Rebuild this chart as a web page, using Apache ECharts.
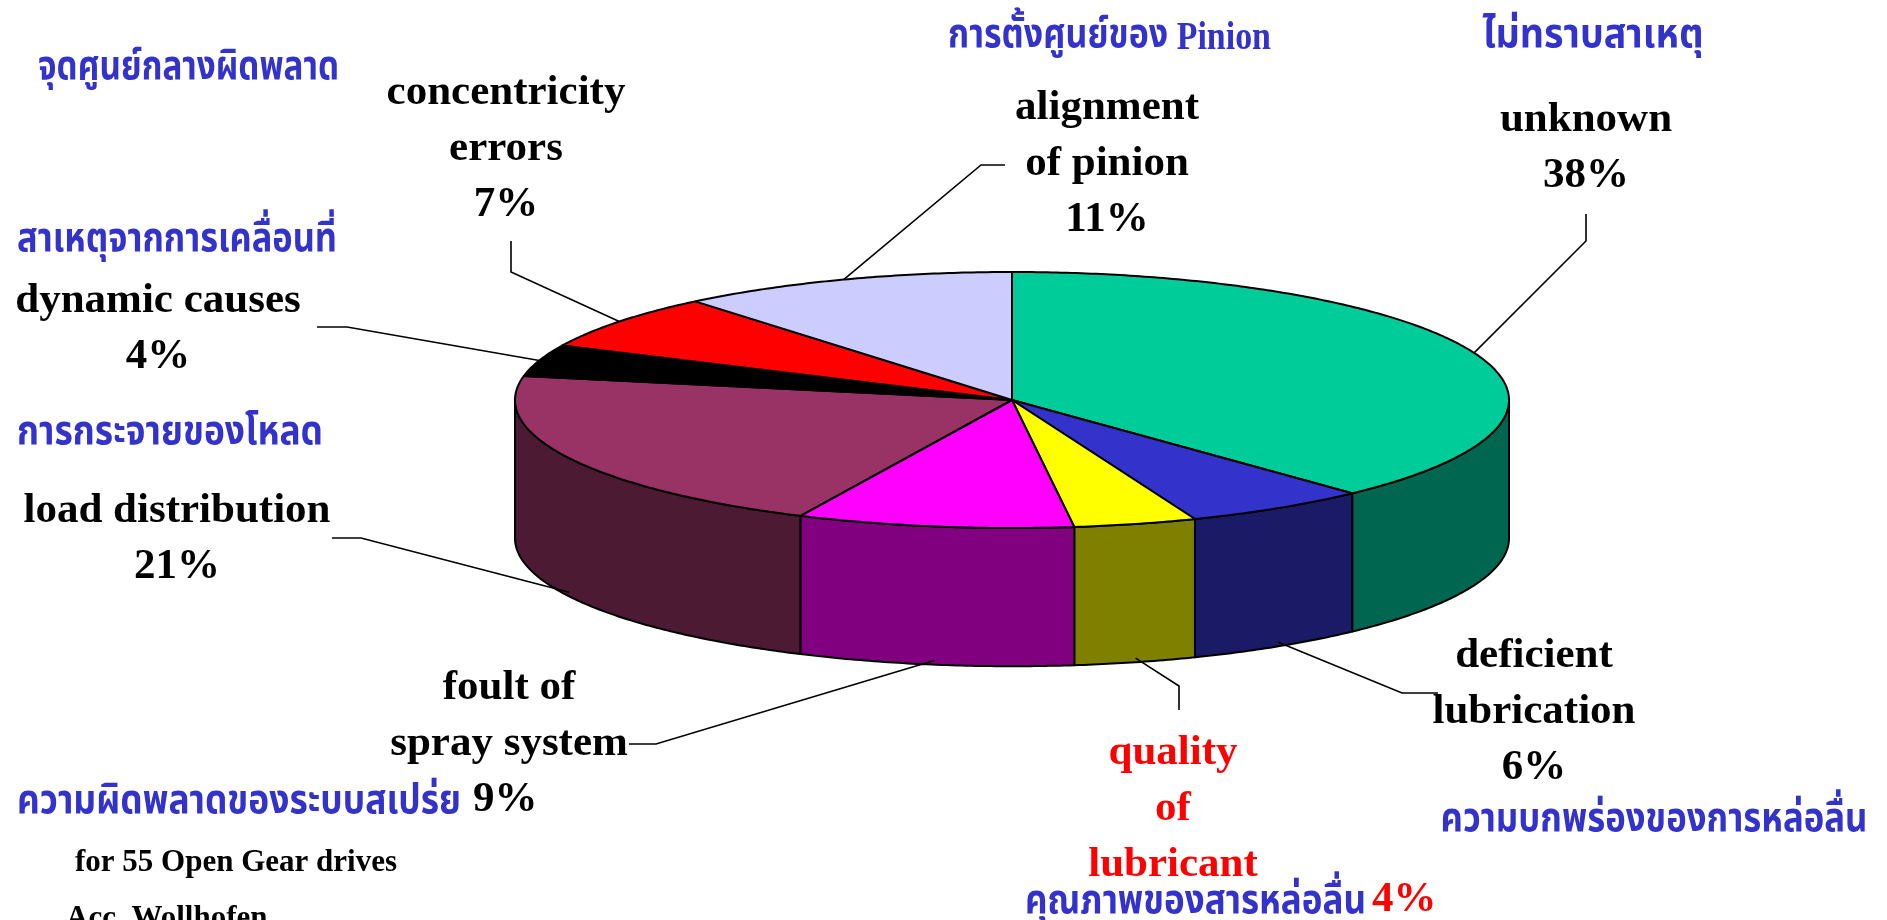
<!DOCTYPE html>
<html>
<head>
<meta charset="utf-8">
<script src="https://cdn.jsdelivr.net/npm/echarts@6/dist/echarts.min.js"></script>
<style>
html,body{margin:0;padding:0;background:#fff;}
#chart{width:1887px;height:920px;}
</style>
</head>
<body>
<div id="chart"></div>
<script>
// ---- data ----
const categories = ['unknown','deficient lubrication','quality of lubricant','foult of spray system','load distribution','dynamic causes','concentricity errors','alignment of pinion'];
const values = [38, 6, 4, 9, 21, 4, 7, 11];
const labelLines = [['unknown'], ['deficient','lubrication'], ['quality','of','lubricant'], ['foult of','spray system'], ['load distribution'], ['dynamic causes'], ['concentricity','errors'], ['alignment','of pinion']];
const thaiNames = ['ไม่ทราบสาเหตุ','ความบกพร่องของการหล่อลื่น','คุณภาพของสารหล่อลื่น','ความผิดพลาดของระบบสเปร่ย','การกระจายของโหลด','สาเหตุจากการเคลื่อนที่','จุดศูนย์กลางผิดพลาด','การตั้งศูนย์ของ Pinion'];
const percentOnThaiLine = [false, false, true, true, false, false, false, false];
const noteLines = ['for 55 Open Gear drives', 'Acc. Wollhofen'];

// ---- styles / layout ----
const topColors = ['#00CC99','#3333CC','#FFFF00','#FF00FF','#993366','#000000','#FF0000','#CCCCFF'];
const sideColors = ['#006650','#1A1A66','#808000','#800080','#4C1A33','#000000','#800000','#666680'];
const labelColors = ['#000','#000','#FF0000','#000','#000','#000','#000','#000'];
const labelPos = [[1586,120],[1534,656],[1173,753],[509,688],[177,511],[158,301],[506,93],[1107,108]];
const thaiPos = [[1593,39,'center'],[1654,823,'center'],[1025,905,'left'],[17,805,'left'],[17,436,'left'],[17,243,'left'],[38,71,'left'],[948,39,'left']];
const thaiWidth = [221, 427, 341, 444, 306, 320, 301, 323];
const thaiPctPos = {2: [1372, 900], 3: [473, 800]};
const leaderPts = [[[1586,241],[1586,214]],[[1402,693],[1438,693]],[[1179,686],[1179,710]],[[656,744],[629,744]],[[361,538],[332,538]],[[347,327],[317,327]],[[511,272],[511,241]],[[981,165],[1005,165]]];
const DEPTH = 1.08;
const LH = 56;
const EN_FONT = 'bold 43px "Liberation Serif", "Times New Roman", serif';
const TH_FAMILY = '"Noto Sans Thai","Noto Serif Thai","Garuda","Loma","Norasi","Tlwg Typo","DejaVu Sans","Liberation Serif",sans-serif';
const TH_SIZE = 33, LAT_SIZE = 33;
const BLUE = '#3333CC';

const total = values.reduce((a, b) => a + b, 0);
const starts = [];
values.reduce((acc, v) => { starts.push(acc); return acc + v; }, 0);

function renderItem(params, api) {
  const i = params.dataIndex;
  const v = api.value(2);
  const a0 = starts[i] / total * 2 * Math.PI;
  const a1 = (starts[i] + v) / total * 2 * Math.PI;
  const pt = (t, dz) => api.coord([Math.sin(t), Math.cos(t) - (dz || 0)]);
  const arc = (t0, t1, dz) => {
    const n = Math.max(2, Math.ceil((t1 - t0) / 0.01));
    const arr = [];
    for (let k = 0; k <= n; k++) arr.push(pt(t0 + (t1 - t0) * k / n, dz));
    return arr;
  };
  const children = [];
  const s0 = Math.max(a0, Math.PI / 2), s1 = Math.min(a1, 1.5 * Math.PI);
  if (s1 > s0) {
    const pts = arc(s0, s1, 0).concat(arc(s0, s1, DEPTH).reverse());
    children.push({type: 'polygon', shape: {points: pts}, style: {fill: sideColors[i], stroke: '#000', lineWidth: 2, lineJoin: 'round'}});
  }
  const top = [api.coord([0, 0])].concat(arc(a0, a1, 0));
  children.push({type: 'polygon', shape: {points: top}, style: {fill: topColors[i], stroke: '#000', lineWidth: 2, lineJoin: 'round'}});
  const mid = (a0 + a1) / 2;
  const start = Math.cos(mid) < 0 ? pt(mid, DEPTH * 0.97) : pt(mid, 0);
  children.push({type: 'polyline', shape: {points: [start].concat(leaderPts[i])}, style: {stroke: '#000', lineWidth: 1.6, fill: null}});
  return {type: 'group', children: children};
}

const mctx = document.createElement('canvas').getContext('2d');
function measure(font, text) { mctx.font = font; return mctx.measureText(text).width; }
const TH_FONT_STR = 'bold ' + TH_SIZE + 'px ' + TH_FAMILY;
const LAT_FONT_STR = 'bold ' + LAT_SIZE + 'px "Liberation Serif", serif';

// labels
const graphics = [];
labelLines.forEach((lines, i) => {
  const ls = lines.slice();
  if (!percentOnThaiLine[i]) ls.push(values[i] + '%');
  ls.forEach((t, k) => {
    graphics.push({type: 'text', z: 10, style: {text: t, x: labelPos[i][0], y: labelPos[i][1] + k * LH, font: EN_FONT, fill: labelColors[i], align: 'center', verticalAlign: 'middle'}});
  });
  const tp = thaiPos[i];
  const name = thaiNames[i];
  const m = name.match(/^(.*?)\s+([A-Za-z]+)$/);
  let txt, w;
  if (m) {
    txt = '{t|' + m[1] + '}{s| }{l|' + m[2] + '}';
    w = measure(TH_FONT_STR, m[1]) + measure(LAT_FONT_STR, ' ') + measure(LAT_FONT_STR, m[2]);
  } else {
    txt = '{t|' + name + '}';
    w = measure(TH_FONT_STR, name);
  }
  const sx = w > 0 ? thaiWidth[i] / w : 1;
  graphics.push({type: 'text', z: 10, x: tp[0], y: tp[1], scaleX: sx, scaleY: 1.22, style: {
    text: txt, x: 0, y: 0, align: tp[2], verticalAlign: 'middle',
    rich: {
      t: {fontFamily: TH_FAMILY, fontSize: TH_SIZE, fill: BLUE, fontWeight: 'bold'},
      s: {fontFamily: '"Liberation Serif", serif', fontSize: LAT_SIZE, fill: BLUE, fontWeight: 'bold'},
      l: {fontFamily: '"Liberation Serif", serif', fontSize: LAT_SIZE, fill: BLUE, fontWeight: 'bold'}
    }
  }});
  if (percentOnThaiLine[i]) {
    const pp = thaiPctPos[i];
    graphics.push({type: 'text', z: 10, style: {text: values[i] + '%', x: pp[0], y: pp[1], font: EN_FONT, fill: labelColors[i], align: 'left', verticalAlign: 'middle'}});
  }
});
graphics.push({type: 'text', z: 10, style: {text: noteLines[0], x: 75, y: 863, font: 'bold 31px "Liberation Serif", serif', fill: '#000', align: 'left', verticalAlign: 'middle'}});
graphics.push({type: 'text', z: 10, style: {text: noteLines[1], x: 66, y: 919, font: 'bold 31px "Liberation Serif", serif', fill: '#000', align: 'left', verticalAlign: 'middle'}});

const chart = echarts.init(document.getElementById('chart'), null, {renderer: 'canvas'});
chart.setOption({
  backgroundColor: '#ffffff',
  animation: false,
  grid: {left: 515, top: 272, width: 994, height: 256},
  xAxis: {type: 'value', min: -1, max: 1, show: false},
  yAxis: {type: 'value', min: -1, max: 1, show: false},
  series: [{
    type: 'custom',
    renderItem: renderItem,
    clip: false,
    data: values.map((v, i) => ({name: categories[i], value: [0, 0, v]})),
    encode: {x: 0, y: 1}
  }],
  graphic: graphics
});
</script>
</body>
</html>
